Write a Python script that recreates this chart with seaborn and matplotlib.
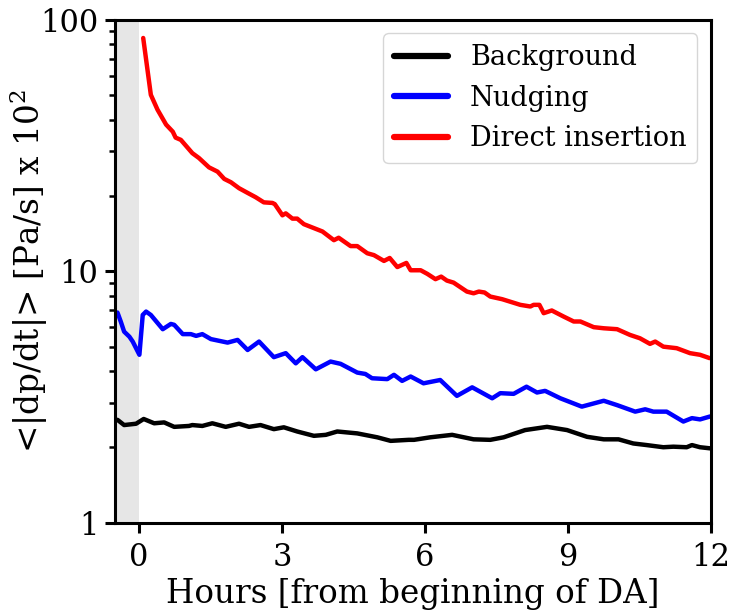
import matplotlib
matplotlib.use("Agg")
import matplotlib.pyplot as plt
import matplotlib.ticker as mticker
import numpy as np
import pandas as pd
import seaborn as sns

# Hours from the beginning of data assimilation and mean |dp/dt| (Pa/s x 100)
bg_hours = [-0.45, -0.31, -0.06, 0.10, 0.32, 0.53, 0.74, 1.05, 1.12, 1.33, 1.54,
            1.82, 2.10, 2.31, 2.55, 2.83, 3.04, 3.32, 3.67, 3.92, 4.16, 4.58,
            5.00, 5.28, 5.66, 5.77, 6.11, 6.57, 7.02, 7.37, 7.65, 8.10, 8.56,
            8.98, 9.40, 9.75, 10.06, 10.37, 10.65, 11.00, 11.21, 11.49, 11.60,
            11.77, 11.98]
bg_vals = [2.57, 2.45, 2.48, 2.59, 2.49, 2.51, 2.41, 2.43, 2.45, 2.43, 2.49,
           2.41, 2.48, 2.41, 2.45, 2.36, 2.40, 2.31, 2.22, 2.24, 2.31, 2.27,
           2.19, 2.12, 2.14, 2.14, 2.19, 2.24, 2.15, 2.14, 2.19, 2.34, 2.41,
           2.34, 2.20, 2.15, 2.15, 2.07, 2.04, 2.00, 2.01, 2.00, 2.04,
           2.00, 1.98]

nud_hours = [-0.45, -0.38, -0.31, -0.20, -0.13, 0.01, 0.08, 0.15, 0.25, 0.50,
             0.67, 0.74, 0.92, 1.09, 1.20, 1.33, 1.51, 1.86, 2.07, 2.28, 2.52,
             2.83, 3.08, 3.29, 3.43, 3.71, 4.02, 4.23, 4.58, 4.75, 4.89, 5.21,
             5.35, 5.52, 5.70, 5.97, 6.32, 6.67, 6.99, 7.41, 7.58, 7.86, 8.13,
             8.35, 8.52, 8.84, 9.29, 9.75, 10.03, 10.41, 10.62, 10.79, 11.07,
             11.42, 11.60, 11.77, 11.98]
nud_vals = [6.86, 6.31, 5.76, 5.50, 5.26, 4.66, 6.71, 6.92, 6.71, 5.89,
            6.18, 6.13, 5.63, 5.63, 5.54, 5.63, 5.38, 5.21, 5.34, 4.87, 5.26,
            4.56, 4.73, 4.31, 4.56, 4.08, 4.38, 4.29, 3.96, 3.91, 3.76, 3.73,
            3.88, 3.67, 3.82, 3.59, 3.70, 3.20, 3.46, 3.13, 3.28, 3.26, 3.48,
            3.30, 3.35, 3.13, 2.90, 3.06, 2.94, 2.77, 2.83, 2.77, 2.77,
            2.53, 2.61, 2.58, 2.65]

di_hours = [0.09, 0.25, 0.39, 0.57, 0.71, 0.77, 0.88, 1.12, 1.26, 1.47, 1.65,
            1.79, 1.93, 2.10, 2.28, 2.45, 2.62, 2.80, 2.85, 3.01, 3.08, 3.22,
            3.32, 3.46, 3.85, 4.09, 4.19, 4.44, 4.58, 4.79, 4.93, 5.14, 5.26,
            5.42, 5.61, 5.70, 5.91, 6.05, 6.22, 6.34, 6.46, 6.60, 6.88, 7.02,
            7.13, 7.25, 7.37, 7.62, 8.00, 8.21, 8.28, 8.40, 8.49, 8.66, 8.91,
            9.12, 9.26, 9.54, 9.75, 10.03, 10.30, 10.51, 10.72, 10.83, 11.00,
            11.28, 11.56, 11.77, 11.97]
di_vals = [84.6, 50.3, 43.9, 38.3, 35.9, 34.0, 33.3, 29.5, 28.2, 25.9, 24.9,
           23.3, 22.6, 21.4, 20.5, 19.7, 18.8, 18.7, 18.5, 16.7, 17.0, 16.2,
           16.2, 15.4, 14.4, 13.3, 13.6, 12.6, 12.6, 11.8, 11.6, 11.0, 11.3,
           10.4, 10.8, 10.1, 10.1, 9.77, 9.31, 9.53, 9.19, 9.02, 8.31, 8.18,
           8.31, 8.24, 7.94, 7.75, 7.36, 7.25, 7.36, 7.36, 6.82, 6.99, 6.61,
           6.32, 6.32, 6.00, 5.94, 5.89, 5.59, 5.42, 5.15, 5.26, 5.02,
           4.95, 4.73, 4.66, 4.52]

series_names = ["Background", "Nudging", "Direct insertion"]
series_colors = ["black", "blue", "red"]
x_ticks = [0, 3, 6, 9, 12]
y_ticks = [1, 10, 100]

df = pd.concat([
    pd.DataFrame({"hours": bg_hours, "value": bg_vals, "run": series_names[0]}),
    pd.DataFrame({"hours": nud_hours, "value": nud_vals, "run": series_names[1]}),
    pd.DataFrame({"hours": di_hours, "value": di_vals, "run": series_names[2]}),
], ignore_index=True)

sns.set_theme(style="ticks")
plt.rcParams.update({
    "font.family": ["DejaVu Serif"],
    "mathtext.fontset": "dejavuserif",
    "text.color": "black",
    "axes.labelcolor": "black",
    "xtick.color": "black",
    "ytick.color": "black",
    "axes.edgecolor": "black",
})

fig = plt.figure(figsize=(7.33, 6.16), dpi=100)
ax = fig.add_axes([0.157, 0.151, 0.813, 0.817])

# spin-up window before assimilation starts
ax.axvspan(-0.5, 0, color="0.9", lw=0, zorder=0)

sns.lineplot(data=df, x="hours", y="value", hue="run", hue_order=series_names,
             palette=dict(zip(series_names, series_colors)), estimator=None,
             sort=False, linewidth=3.2, ax=ax)

ax.set_yscale("log")
ax.set_xlim(-0.5, 12)
ax.set_ylim(1, 100)
ax.set_xticks(x_ticks)
ax.set_xticklabels([str(t) for t in x_ticks])
ax.set_yticks(y_ticks)
ax.yaxis.set_major_formatter(mticker.FixedFormatter([str(t) for t in y_ticks]))
ax.yaxis.set_minor_locator(mticker.LogLocator(base=10, subs=np.arange(2, 10)))
ax.yaxis.set_minor_formatter(mticker.NullFormatter())

ax.tick_params(axis="both", which="major", labelsize=22, length=7, width=2.2,
               direction="out")
ax.tick_params(axis="x", which="major", pad=6.5)
ax.tick_params(axis="y", which="major", pad=5)
ax.tick_params(axis="y", which="minor", length=4.5, width=1.8)
for sp in ax.spines.values():
    sp.set_linewidth(2.2)

ax.set_xlabel("Hours [from beginning of DA]", fontsize=23.5, labelpad=4)
ax.set_ylabel(r"<|dp/dt|> [Pa/s] x 10$^2$", fontsize=23.5)
ax.yaxis.set_label_coords(-0.11, 0.5)

leg = ax.legend(loc="upper right", fontsize=19.5, frameon=True,
                handlelength=2.0, borderaxespad=0.5)
for line in leg.get_lines():
    line.set_linewidth(4.5)

fig.savefig("out.png", dpi=100)
